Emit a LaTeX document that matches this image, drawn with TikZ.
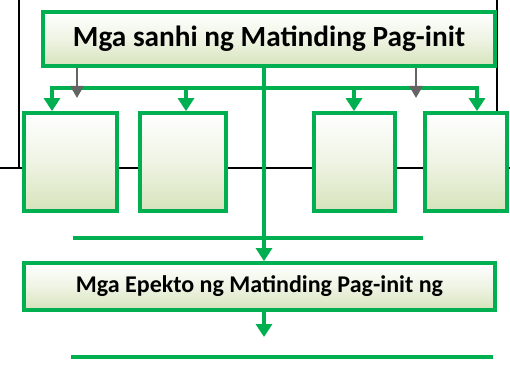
\documentclass[tikz,border=0pt]{standalone}
\usepackage{fontspec}
\setmainfont{Carlito}
\usetikzlibrary{arrows.meta}
\definecolor{gr}{RGB}{0,176,80}
\definecolor{lg}{RGB}{214,227,187}
\definecolor{gy}{RGB}{100,100,100}
\tikzset{
  gbox/.style={draw=gr, line width=3.8pt, top color=white, bottom color=lg, middle color=white!60!lg, inner sep=0pt, anchor=center},
  garr/.style={draw=gr, line width=3.4pt, -{Triangle[width=16pt,length=13pt]}},
  gline/.style={draw=gr, line width=3.4pt},
  yarr/.style={draw=gy, line width=2.4pt, -{Triangle[width=13pt,length=12pt]}},
  frame/.style={draw=black, line width=2.2pt}
}
\begin{document}
\begin{tikzpicture}[x=1pt,y=-1pt]
\useasboundingbox (0,0) rectangle (510,379);
% black frame behind
\coordinate (f1) at (0,168);
\coordinate (f2) at (510,168);
\coordinate (f3) at (19,0);
\coordinate (f4) at (19,168);
\coordinate (f5) at (497,0);
\coordinate (f6) at (497,168);
\draw[frame] (f1) -- (f2);
\draw[frame] (f3) -- (f4);
\draw[frame] (f5) -- (f6);
% top box
\node[gbox, minimum width=452pt, minimum height=54pt] (top) at (269,39) {\resizebox{392pt}{!}{\fontsize{28}{30}\selectfont\bfseries Mga sanhi ng Matinding Pag-init}};
% cause boxes
\node[gbox, minimum width=93pt, minimum height=98pt] (c1) at (70.5,162) {};
\node[gbox, minimum width=86pt, minimum height=98pt] (c2) at (183,162) {};
\node[gbox, minimum width=81pt, minimum height=98pt] (c3) at (354.5,162) {};
\node[gbox, minimum width=82pt, minimum height=98pt] (c4) at (466,162) {};
% effect box
\node[gbox, minimum width=471pt, minimum height=47pt] (e) at (259.5,286.5) {\resizebox{367pt}{!}{\fontsize{24}{26}\selectfont\bfseries Mga Epekto ng Matinding Pag-init ng}};
% bus
\coordinate (b1) at (52,88);
\coordinate (b2) at (186,88);
\coordinate (b3) at (354,88);
\coordinate (b4) at (477,88);
\draw[gline] ([xshift=-1.7pt]b1) -- ([xshift=1.7pt]b4);
\draw[garr] (b1) -- (b1 |- c1.north);
\draw[garr] (b2) -- (b2 |- c2.north);
\draw[garr] (b3) -- (b3 |- c3.north);
\draw[garr] (b4) -- (b4 |- c4.north);
% center line
\coordinate (m) at (264,68);
\draw[garr] (top.south -| m) -- (m |- e.north);
% gray arrows
\coordinate (g1) at (77,98);
\coordinate (g2) at (416,98);
\draw[yarr] (top.south -| g1) -- (g1);
\draw[yarr] (top.south -| g2) -- (g2);
% writing lines
\coordinate (l1a) at (73,238);
\coordinate (l1b) at (423,238);
\draw[gline] (l1a) -- (l1b);
\coordinate (d) at (264,337);
\draw[garr] (e.south -| d) -- (d);
\coordinate (l2a) at (71,357);
\coordinate (l2b) at (493,357);
\draw[gline] (l2a) -- (l2b);
\end{tikzpicture}
\end{document}
